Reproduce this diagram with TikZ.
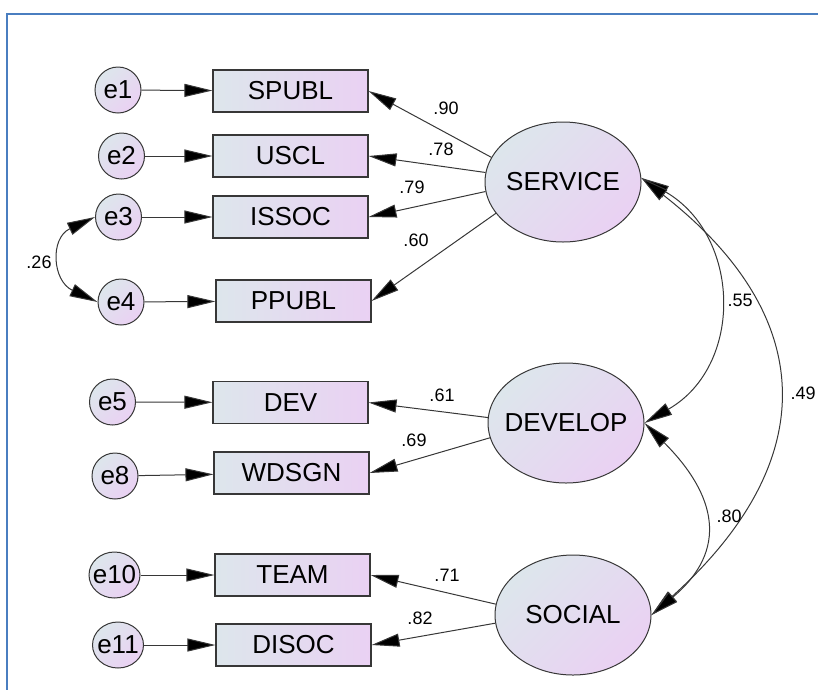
\documentclass[tikz,border=0pt]{standalone}
\usepackage{fontspec}
\setmainfont{Liberation Sans}
\usetikzlibrary{arrows.meta,shapes.geometric}
\definecolor{fillL}{RGB}{221,230,236}
\definecolor{fillR}{RGB}{234,209,243}
\definecolor{lineC}{RGB}{55,55,55}
\definecolor{frameC}{RGB}{74,126,192}
\newcommand\zc[1]{\makebox[0pt]{#1}}
\tikzset{
  obs/.style={draw=lineC,line width=1.1pt,rectangle,minimum width=155pt,minimum height=42pt,inner sep=0pt,
    top color=fillL,bottom color=fillR,shading angle=90,font=\fontsize{26}{26}\selectfont},
  err/.style={draw=lineC,line width=1pt,ellipse,minimum width=46pt,minimum height=46pt,inner sep=0pt,
    top color=fillL,bottom color=fillR,shading angle=45,font=\fontsize{26}{26}\selectfont},
  errw/.style={err,minimum width=51pt},
  lat/.style={draw=lineC,line width=1pt,ellipse,minimum width=156pt,minimum height=120pt,inner sep=0pt,
    top color=fillL,bottom color=fillR,shading angle=45,font=\fontsize{26}{26}\selectfont},
  tipA/.tip={Triangle[length=28pt,width=13pt,fill=black]},
  arr/.style={draw=lineC,line width=1pt,-tipA},
  arrtwo/.style={draw=lineC,line width=1pt,tipA-tipA},
  coef/.style={font=\fontsize{18}{18}\selectfont,inner sep=0pt},
  frame/.style={draw=frameC,line width=2pt}
}
\begin{document}
\begin{tikzpicture}[x=1pt,y=1pt]
\useasboundingbox (0,0) rectangle (818,-689);
\draw[frame] (7,-14) rectangle (840,-710);
% observed variables
\node[obs] (SPUBL) at (290.5,-91) {SPUBL};
\node[obs] (USCL) at (290.5,-156) {USCL};
\node[obs] (ISSOC) at (290.5,-217) {ISSOC};
\node[obs] (PPUBL) at (293.5,-301) {PPUBL};
\node[obs] (DEV) at (290.5,-402.5) {DEV};
\node[obs] (WDSGN) at (291.5,-473) {WDSGN};
\node[obs] (TEAM) at (292.5,-575) {TEAM};
\node[obs] (DISOC) at (293.5,-645) {DISOC};
% errors
\node[err] (e1) at (118,-90) {\zc{e1}};
\node[err] (e2) at (121.5,-156) {\zc{e2}};
\node[err] (e3) at (118.5,-217) {\zc{e3}};
\node[err] (e4) at (121,-302) {\zc{e4}};
\node[err] (e5) at (112.5,-402) {\zc{e5}};
\node[err] (e8) at (115,-476) {\zc{e8}};
\node[errw] (e10) at (114.5,-575) {\zc{e10}};
\node[errw] (e11) at (118,-645) {\zc{e11}};
% latent
\node[lat] (SERVICE) at (563,-182) {\zc{SERVICE}};
\node[lat] (DEVELOP) at (566,-423) {\zc{DEVELOP}};
\node[lat] (SOCIAL) at (573,-615) {\zc{SOCIAL}};
% error arrows
\draw[arr] (e1) -- (SPUBL);
\draw[arr] (e2) -- (USCL);
\draw[arr] (e3) -- (ISSOC);
\draw[arr] (e4) -- (PPUBL);
\draw[arr] (e5) -- (DEV);
\draw[arr] (e8) -- (WDSGN);
\draw[arr] (e10) -- (TEAM);
\draw[arr] (e11) -- (DISOC);
% loadings
\draw[arr] (SERVICE.161) -- (SPUBL.east);
\draw[arr] (SERVICE.173) -- (USCL.east);
\draw[arr] (SERVICE.187) -- (ISSOC.east);
\draw[arr] (SERVICE.205) -- (PPUBL.east);
\draw[arr] (DEVELOP.176) -- (DEV.east);
\draw[arr] (DEVELOP.191) -- (WDSGN.east);
\draw[arr] (SOCIAL.172) -- (TEAM.east);
\draw[arr] (SOCIAL.186) -- (DISOC.east);
% covariances
\draw[arrtwo] (e3.west) to[out=205,in=155,looseness=1.5] (e4.west);
\draw[arrtwo] (SERVICE.3) to[out=-30,in=30,looseness=1.2] (DEVELOP.east);
\draw[arrtwo] (SERVICE.3) to[out=-38,in=42,looseness=1.33] (SOCIAL.east);
\draw[arrtwo] (DEVELOP.east) to[out=-45,in=40,looseness=1.35] (SOCIAL.east);
% coefficients
\node[coef] (c90) at (446,-108) {.90};
\node[coef] (c78) at (441,-149) {.78};
\node[coef] (c79) at (412,-187) {.79};
\node[coef] (c60) at (416,-240) {.60};
\node[coef] (c61) at (442,-395) {.61};
\node[coef] (c69) at (414,-440) {.69};
\node[coef] (c71) at (447,-575) {.71};
\node[coef] (c82) at (420,-618) {.82};
\node[coef] (c26) at (39,-262) {.26};
\node[coef] (c55) at (740,-300) {.55};
\node[coef] (c49) at (803,-393) {.49};
\node[coef] (c80) at (729,-516) {.80};
\end{tikzpicture}
\end{document}
